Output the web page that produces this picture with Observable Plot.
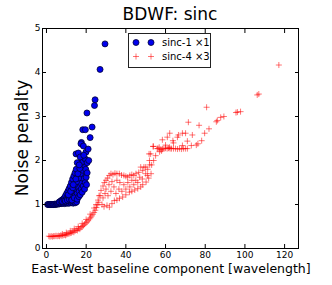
<!DOCTYPE html>
<html>
<head>
<meta charset="utf-8">
<script src="https://cdn.jsdelivr.net/npm/d3@7"></script>
<script src="https://cdn.jsdelivr.net/npm/@observablehq/plot@0.6"></script>
<style>
  body { margin: 0; background: #fff; font-family: "DejaVu Sans", sans-serif; }
  #wrap { position: relative; width: 332px; height: 285px; overflow: hidden; }
  .lbl { position: absolute; white-space: nowrap; color: #000; }
</style>
</head>
<body>
<div id="wrap"></div>
<script>
const titleText = "BDWF: sinc";
const xLabel = "East-West baseline component [wavelength]";
const yLabel = "Noise penalty";
const seriesNames = ["sinc-1 \u00d71", "sinc-4 \u00d73"];
const xTicks = [0, 20, 40, 60, 80, 100, 120];
const yTicks = [0, 1, 2, 3, 4, 5];

// series 1: sinc-1 x1 (blue dots)
const blueX = [0.6,1.0,1.4,1.8,2.2,2.6,3.0,3.4,3.8,4.2,4.6,5.0,5.4,5.8,6.2,6.6,7.0,7.4,7.8,8.2,8.6,9.0,9.4,9.8,10.2,10.6,11.0,11.5,12.0,12.5,13.0,13.5,14.0,14.6,15.2,
  6.5,7.2,7.8,8.4,9.0,9.6,10.2,10.8,11.4,12.0,12.6,13.2,13.8,14.4,15.0,
  8.0,9.0,10.0,11.0,12.0,13.0,14.0,15.0,16.0,17.0,18.0,19.0,
  9.5,10.5,11.5,12.5,13.5,14.5,15.5,16.5,17.5,18.5,19.5,20.0,
  11.0,12.2,13.3,14.2,15.2,16.2,17.2,18.2,19.0,19.8,
  12.8,14.0,15.5,16.3,17.0,18.0,19.2,20.2,
  13.5,14.8,15.8,16.8,17.6,18.4,19.2,20.5,
  14.9,15.5,16.1,17.0,17.6,17.4,18.6,19.8,19.9,21.0,16.5,18.8,20.5,21.3,
  18.3,19.6,22.0,23.0,20.4,24.2,24.5,27.0,29.5];
const blueY = [1.0,1.0,1.0,1.0,1.0,1.0,1.0,1.0,1.0,1.01,1.0,1.01,1.01,1.02,1.01,1.02,1.03,1.02,1.04,1.03,1.05,1.02,1.04,1.03,1.05,1.03,1.04,1.03,1.05,1.04,1.06,1.03,1.05,1.04,1.06,
  1.06,1.08,1.10,1.12,1.15,1.20,1.25,1.30,1.36,1.42,1.50,1.58,1.65,1.72,1.80,
  1.07,1.09,1.12,1.15,1.20,1.25,1.30,1.35,1.40,1.50,1.60,1.70,
  1.08,1.10,1.12,1.14,1.18,1.20,1.25,1.30,1.35,1.42,1.50,1.62,
  1.22,1.30,1.38,1.45,1.52,1.60,1.70,1.78,1.88,1.80,
  1.10,1.15,1.12,1.18,1.22,1.28,1.35,1.45,
  1.45,1.58,1.70,1.82,1.95,1.98,2.05,1.72,
  2.15,1.95,2.17,2.08,2.41,2.38,2.33,2.02,2.19,2.26,1.90,2.12,1.95,2.00,
  2.70,2.70,2.52,2.76,3.08,3.25,3.38,4.07,4.65];

// series 2: sinc-4 x3 (red pluses)
const redX = [1.2,1.8,2.4,3.0,3.6,4.2,4.8,5.4,6.0,6.6,7.2,7.8,8.4,9.0,9.6,10.2,10.8,11.4,12.0,12.6,13.2,13.8,14.4,15.0,15.6,16.2,16.8,17.4,18.0,18.6,19.2,19.8,20.4,21.0,21.6,22.2,22.8,23.4,24.0,24.6,25.2,25.8,26.4,
  8,10,12,14,16,18,20,22,24,25,26,27,
  26.5,27.5,28.5,29.2,30,30.8,31.6,32.5,33.5,34.5,35.5,36.7,37.8,39,40,40.9,42,43,44,45.1,46.5,48.5,50,51.9,
  28,29,30.5,31.7,33,34.2,35.5,36.8,38.4,40,41.8,43,44.5,46,47.5,48.5,50.2,51.5,52.7,
  28.5,29.5,30,31,31.5,32.5,33,34,35,35.5,36.5,37,38,39,40,41,42,43,44,45,46,47,47.5,48.3,49.1,50.9,50,51.7,52.5,53.9,53.7,55,55.8,56.2,53,54,51,52,
  57.6,58.5,59.2,60,60.8,61.5,62.3,63,64,65,66,67,68,69,70,71,57,58,
  58.4,60.9,62.1,63.7,66,66.5,68.5,70.1,68.5,71,71.5,73,73.5,76.9,76.3,75.5,78.2,79.7,81.9,80.7,86.1,85.6,87.8,89.4,96.2,95.5,97.8,106.2,107,117.1,60,64,62,56.8];
const redY = [0.28,0.27,0.28,0.27,0.28,0.28,0.29,0.28,0.29,0.28,0.30,0.29,0.30,0.31,0.30,0.32,0.33,0.34,0.35,0.36,0.38,0.37,0.40,0.42,0.41,0.45,0.44,0.48,0.50,0.52,0.55,0.58,0.60,0.63,0.67,0.70,0.74,0.78,0.82,0.87,0.93,0.99,1.05,
  0.33,0.36,0.40,0.45,0.50,0.57,0.66,0.78,0.92,1.00,1.10,1.20,
  1.20,1.32,1.42,1.50,1.55,1.60,1.66,1.70,1.68,1.71,1.70,1.70,1.67,1.66,1.64,1.62,1.66,1.68,1.66,1.70,1.73,1.77,1.85,2.00,
  1.00,0.95,0.98,0.94,1.02,1.09,1.10,1.14,1.17,1.22,1.28,1.30,1.33,1.36,1.40,1.45,1.51,1.60,1.70,
  1.15,1.25,1.35,1.20,1.45,1.30,1.52,1.40,1.25,1.55,1.35,1.50,1.30,1.45,1.35,1.50,1.40,1.55,1.45,1.55,1.50,1.62,1.85,1.58,1.85,1.66,1.70,2.15,2.15,2.32,2.32,2.11,2.27,2.27,1.90,2.00,1.80,1.90,
  2.25,2.26,2.27,2.28,2.27,2.28,2.27,2.27,2.27,2.27,2.26,2.27,2.26,2.27,2.27,2.27,2.20,2.22,
  2.47,2.53,2.62,2.45,2.53,2.58,2.62,2.62,2.34,2.44,2.87,2.34,2.58,2.80,2.38,2.35,2.45,2.62,2.72,3.21,2.91,2.88,2.98,3.00,3.10,3.09,3.11,3.49,3.51,4.17,2.35,2.40,2.30,2.30];

const blue = blueX.map((x, i) => ({x, y: blueY[i]}));
const red = redX.map((x, i) => ({x, y: redY[i]}));

const thinPlus = {
  draw(ctx, size) {
    const r = Math.sqrt(size) / 2;
    ctx.moveTo(-r, 0); ctx.lineTo(r, 0);
    ctx.moveTo(0, -r); ctx.lineTo(0, r);
  }
};

const tickFont = 9;
const chart = Plot.plot({
  width: 332,
  height: 285,
  marginLeft: 42,
  marginRight: 34,
  marginTop: 28,
  marginBottom: 37,
  style: {fontFamily: "DejaVu Sans, sans-serif", fontSize: tickFont + "px", color: "#000", background: "#fff"},
  x: {domain: [-2, 127]},
  y: {domain: [0, 5]},
  marks: [
    Plot.dot(red, {x: "x", y: "y", symbol: thinPlus, r: 3.4, fill: "none", stroke: "#ff0000", strokeOpacity: 0.55, strokeWidth: 1}),
    Plot.dot(blue, {x: "x", y: "y", r: 3, fill: "#0000ee", stroke: "#000033", strokeWidth: 0.8}),
    Plot.frame({stroke: "#000", strokeWidth: 1}),
    Plot.axisX(xTicks, {anchor: "bottom", tickSize: 0, tickPadding: 3, label: null, fontSize: tickFont}),
    Plot.axisX(xTicks, {anchor: "bottom", tickSize: -4, tickFormat: () => "", label: null}),
    Plot.axisX(xTicks, {anchor: "top", tickSize: -4, tickFormat: () => "", label: null}),
    Plot.axisY(yTicks, {anchor: "left", tickSize: 0, tickPadding: 2, label: null, fontSize: tickFont}),
    Plot.axisY(yTicks, {anchor: "left", tickSize: -4, tickFormat: () => "", label: null}),
    Plot.axisY(yTicks, {anchor: "right", tickSize: -4, tickFormat: () => "", label: null})
  ]
});

const wrap = document.getElementById("wrap");
chart.style.position = "absolute";
chart.style.left = "0px";
chart.style.top = "0px";
wrap.appendChild(chart);

function addLabel(text, css) {
  const d = document.createElement("div");
  d.className = "lbl";
  d.textContent = text;
  Object.assign(d.style, css);
  wrap.appendChild(d);
  return d;
}

// title
addLabel(titleText, {left: "170px", top: "4px", fontSize: "17px", transform: "translateX(-50%)"});
// x label
addLabel(xLabel, {left: "171px", top: "261px", fontSize: "12.5px", transform: "translateX(-50%)"});
// y label
addLabel(yLabel, {left: "22px", top: "138px", fontSize: "17px", transform: "translate(-50%, -50%) rotate(-90deg)"});

// legend
const ns = "http://www.w3.org/2000/svg";
const leg = document.createElementNS(ns, "svg");
leg.setAttribute("width", "86");
leg.setAttribute("height", "36");
leg.style.position = "absolute";
leg.style.left = "128px";
leg.style.top = "33px";
leg.innerHTML = `
  <rect x="0.5" y="0.5" width="82" height="34" fill="#fff" stroke="#222" stroke-width="1"/>
  <circle cx="8" cy="9.5" r="3" fill="#0000ee" stroke="#000033" stroke-width="0.8"/>
  <circle cx="23" cy="9.5" r="3" fill="#0000ee" stroke="#000033" stroke-width="0.8"/>
  <path d="M5,23.5h6M8,20.5v6M20,23.5h6M23,20.5v6" stroke="#ff0000" stroke-opacity="0.55" fill="none"/>
  <text x="34" y="13" font-size="10" font-family="DejaVu Sans, sans-serif">${seriesNames[0]}</text>
  <text x="34" y="27" font-size="10" font-family="DejaVu Sans, sans-serif">${seriesNames[1]}</text>
`;
wrap.appendChild(leg);
</script>
</body>
</html>
